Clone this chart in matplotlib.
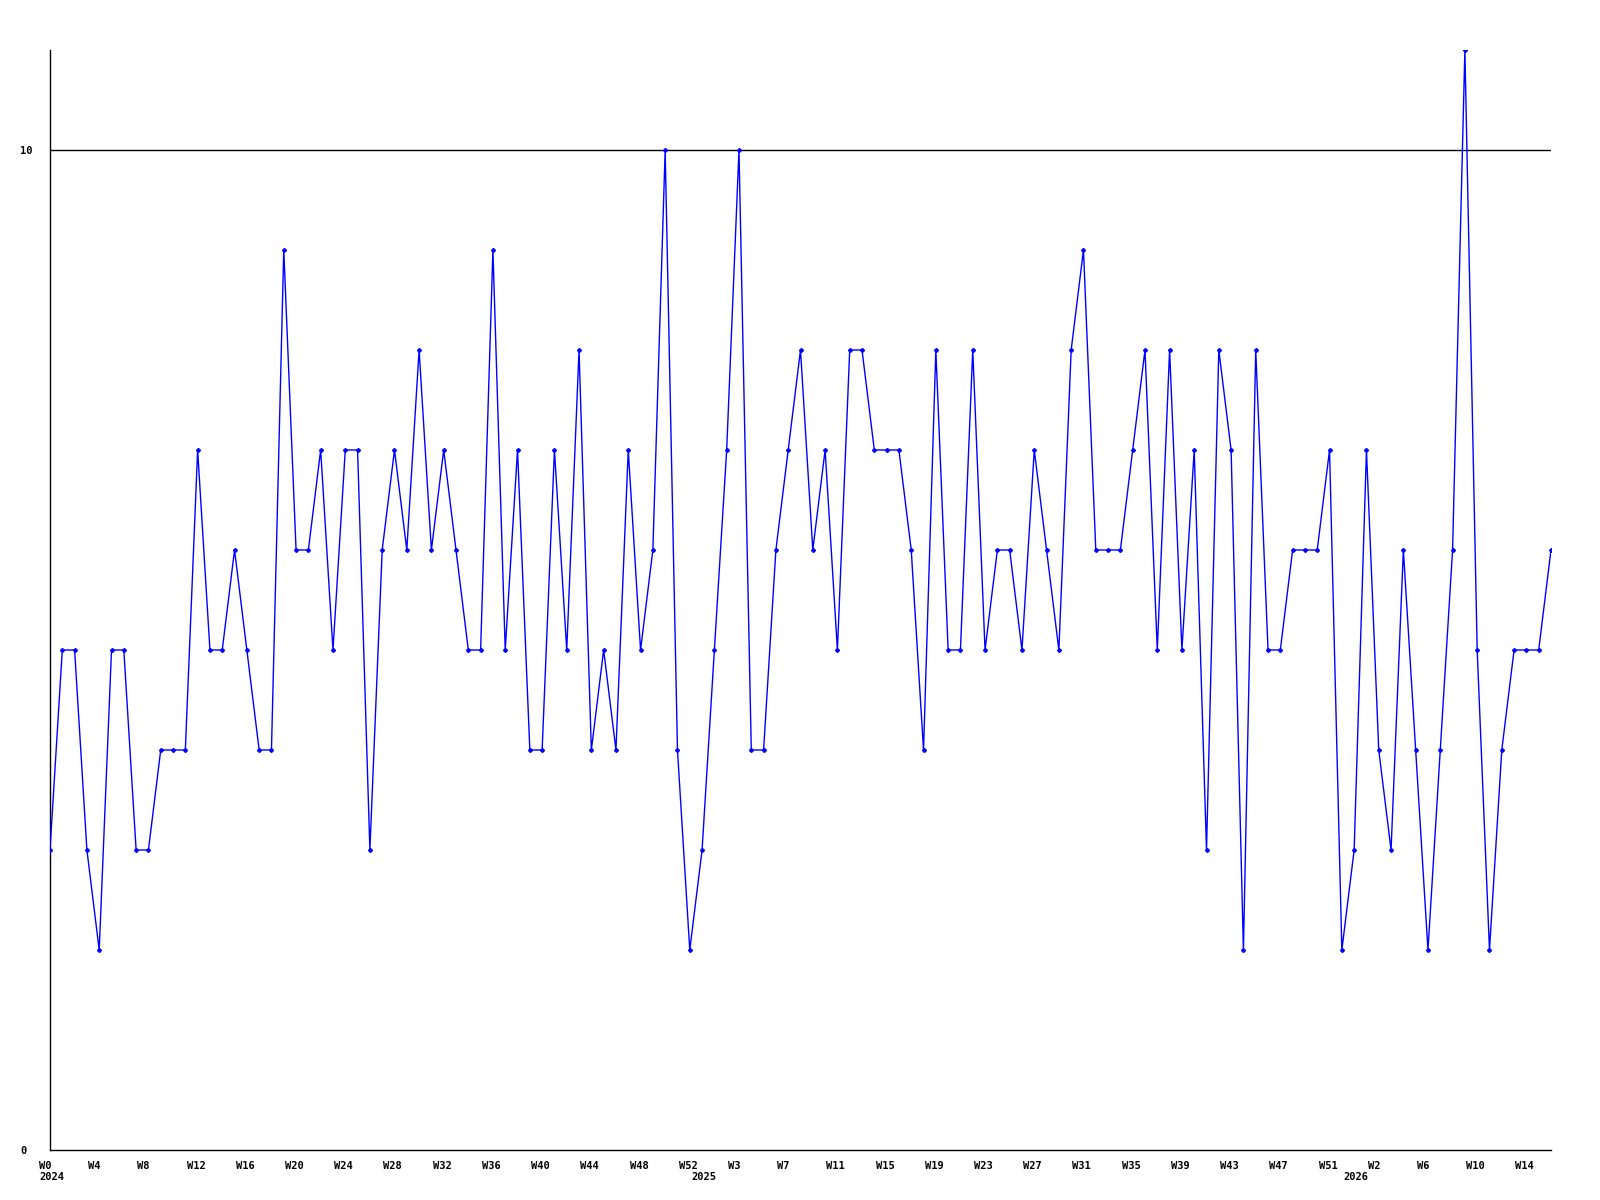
import numpy as np
import matplotlib.pyplot as plt
import matplotlib.transforms as mtransforms

# weekly values, 2024 W0 .. 2026 W16
values = [
    3, 5, 5, 3, 2, 5, 5, 3, 3, 4, 4, 4, 7, 5, 5, 6, 5, 4, 4, 9,
    6, 6, 7, 5, 7, 7, 3, 6, 7, 6, 8, 6, 7, 6, 5, 5, 9, 5, 7, 4,
    4, 7, 5, 8, 4, 5, 4, 7, 5, 6, 10, 4, 2,
    3, 5, 7, 10, 4, 4, 6, 7, 8, 6, 7, 5, 8, 8, 7, 7, 7, 6, 4, 8,
    5, 5, 8, 5, 6, 6, 5, 7, 6, 5, 8, 9, 6, 6, 6, 7, 8, 5, 8, 5,
    7, 3, 8, 7, 2, 8, 5, 5, 6, 6, 6, 7, 2, 3,
    7, 4, 3, 6, 4, 2, 4, 6, 11, 5, 2, 4, 5, 5, 5, 6,
]
years = [2024, 2025, 2026]
weeks_per_year = [53, 53, 17]   # W0..W52, W0..W52, W0..W16

week_labels = []
for y, n in zip(years, weeks_per_year):
    for w in range(n):
        week_labels.append(f'W{w}')

x = np.arange(len(values))

fig = plt.figure(figsize=(16, 12), dpi=100)
ax = fig.add_axes([50/1600, 50/1200, 1501/1600, 1100/1200])

ax.axhline(10, color='black', lw=1.0, zorder=1)
ax.plot(x, values, color='#0000ff', lw=1.0, marker='D', ms=2.0, zorder=3)

ax.set_xlim(0, len(values) - 1)
ax.set_ylim(0, 11)

for s in ['top', 'right']:
    ax.spines[s].set_visible(False)
for s in ['left', 'bottom']:
    ax.spines[s].set_linewidth(1.0)
    ax.spines[s].set_color('black')

font = dict(family='DejaVu Sans Mono', weight='bold', size=7.5)

# y labels are left-aligned near the figure edge
ax.set_yticks([0, 10])
ax.set_yticklabels(['0', '10'], ha='left', **font)
ax.tick_params(axis='y', length=0, pad=21.5)

ticks = x[::4]
ax.set_xticks(ticks)
ax.set_xticklabels([week_labels[i] for i in ticks], ha='left', **font)
ax.tick_params(axis='x', length=0, pad=8)
offset = mtransforms.ScaledTranslation(-11/100, 0, fig.dpi_scale_trans)
for lab in ax.get_xticklabels():
    lab.set_transform(lab.get_transform() + offset)

# year labels under the first week of each year
trans = mtransforms.blended_transform_factory(ax.transData, ax.transAxes)
start = 0
for y, n in zip(years, weeks_per_year):
    ax.text(start, -27/1100, str(y), transform=trans + offset,
            ha='left', va='center', **font)
    start += n

fig.savefig('out.png', dpi=100)
